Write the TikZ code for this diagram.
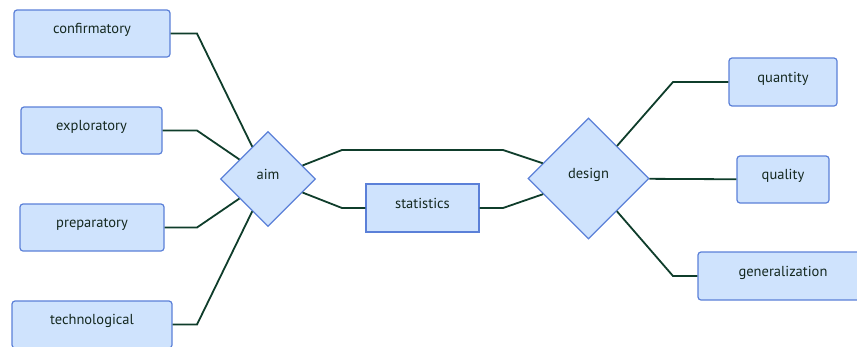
\documentclass[tikz,border=0pt]{standalone}
\usepackage{fontspec}
\setmainfont{PT Sans}
\usetikzlibrary{positioning,shapes.geometric}
\definecolor{boxfill}{HTML}{CFE3FD}
\definecolor{boxline}{HTML}{5B80D8}
\definecolor{edge}{HTML}{0F3D2B}
\definecolor{txt}{HTML}{14281F}
\begin{document}
\begin{tikzpicture}[x=1pt,y=-1pt,
box/.style={draw=boxline,fill=boxfill,line width=1.2pt,rounded corners=3pt,minimum height=47pt,inner sep=0pt,
 text=txt,font=\fontsize{14.5}{16}\selectfont,text height=4pt,text depth=4pt},
choice/.style={box,diamond,rounded corners=0pt,aspect=1},
link/.style={draw=edge,line width=1.8pt}]
\useasboundingbox (0,0) rectangle (857,346);
% left side: aims
\node[box,minimum width=156pt](conf) at (92,33.5){confirmatory};
\node[box,minimum width=141pt](expl) at (91.5,130.5){exploratory};
\node[box,minimum width=144pt](prep) at (92,227.5){preparatory};
\node[box,minimum width=160pt](tech) at (92,324.5){technological};
\node[choice,minimum size=95pt](aim) at (268,179){aim};
% middle
\node[box,rounded corners=0pt,minimum width=113pt,minimum height=48pt](stat) at (422.5,208){statistics};
\node[choice,minimum size=121pt](design) at (588.5,178.5){design};
% right side: design
\node[box,minimum width=108pt,minimum height=48pt](quan) at (783,82){quantity};
\node[box,minimum width=92pt](qual) at (783,179.5){quality};
\node[box,minimum width=170pt,minimum height=48pt](gen) at (783,276){generalization};
\coordinate (lx) at (197,0);\coordinate (ml) at (342,150);\coordinate (mr) at (503,150);\coordinate (rx) at (673,0);
\draw[link](conf.east)--(conf.east-|lx)--(aim);\draw[link](expl.east)--(expl.east-|lx)--(aim);
\draw[link](prep.east)--(prep.east-|lx)--(aim);\draw[link](tech.east)--(tech.east-|lx)--(aim);
\draw[link](aim)--(ml)--(mr)--(design);
\draw[link](aim)--(ml|-stat.west)--(stat.west);\draw[link](stat.east)--(mr|-stat.east)--(design);
\draw[link](design)--(quan.west-|rx)--(quan.west);\draw[link](design)--(qual);
\draw[link](design)--(gen.west-|rx)--(gen.west);
\end{tikzpicture}
\end{document}
